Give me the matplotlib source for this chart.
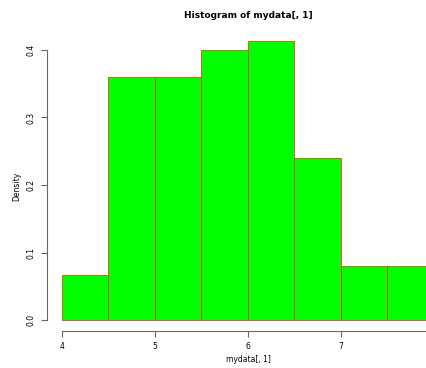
import numpy as np
import matplotlib
matplotlib.use("Agg")
import matplotlib.pyplot as plt

# histogram bins and densities of the first column
bin_edges = [4.0, 4.5, 5.0, 5.5, 6.0, 6.5, 7.0, 7.5, 8.0]
density = [0.0667, 0.36, 0.36, 0.40, 0.4133, 0.24, 0.08, 0.08]
x_ticks = [4, 5, 6, 7]
y_ticks = [0.0, 0.1, 0.2, 0.3, 0.4]

W, H = 427, 368
fig = plt.figure(figsize=(W / 100, H / 100), dpi=100)
ax = fig.add_axes([0.110, 0.100, 0.941, 0.819])

widths = np.diff(bin_edges)
ax.bar(bin_edges[:-1], density, width=widths, align="edge",
       color="#00ff00", edgecolor="#e8401c", linewidth=0.6)

ax.set_xlim(3.84, 8.16)
ax.set_ylim(-0.01653, 0.42987)

for side in ["top", "right"]:
    ax.spines[side].set_visible(False)
for side in ["left", "bottom"]:
    ax.spines[side].set_color("#666666")
    ax.spines[side].set_linewidth(0.8)
ax.spines["left"].set_bounds(0, 0.4)
ax.spines["bottom"].set_bounds(4, 8)

ax.set_xticks(x_ticks)
ax.set_xticklabels([str(t) for t in x_ticks])
ax.set_yticks(y_ticks)
ax.set_yticklabels([f"{t:.1f}" for t in y_ticks], rotation=90, va="center")
ax.tick_params(length=4, width=0.8, color="#666666", labelsize=5.5, pad=4)

# titles placed in figure pixels
fig.text(248 / W, 1 - 15 / H, "Histogram of mydata[, 1]", fontsize=6.5,
         fontweight="bold", ha="center", va="center")
fig.text(248 / W, 1 - 360 / H, "mydata[, 1]", fontsize=5.5,
         ha="center", va="center")
fig.text(17 / W, 1 - 186 / H, "Density", fontsize=5.5, rotation=90,
         ha="center", va="center")

fig.savefig("out.png", dpi=100)
